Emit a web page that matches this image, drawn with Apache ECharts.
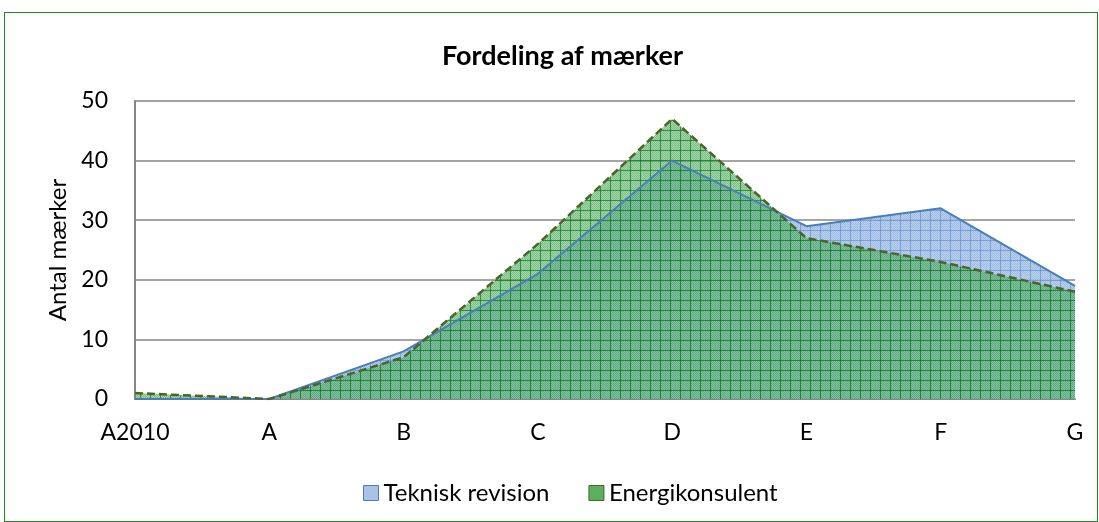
<!DOCTYPE html>
<html>
<head>
<meta charset="utf-8">
<script src="https://cdn.jsdelivr.net/npm/echarts@6/dist/echarts.min.js"></script>
<style>
  html, body { margin: 0; padding: 0; background: #fff; }
  #chart { width: 1099px; height: 522px; }
  #frame {
    position: absolute; left: 4px; top: 12px; width: 1092px; height: 508px;
    border: 1px solid #1b8a1b; pointer-events: none;
  }
</style>
</head>
<body>
<div id="chart"></div>
<div id="frame"></div>
<script>
// data
var categories = ["A2010", "A", "B", "C", "D", "E", "F", "G"];
var teknisk = [0, 0, 8, 21, 40, 29, 32, 19];
var energi = [1, 0, 7, 26, 47, 27, 23, 18];

// pattern fills, mimics the excel grid texture
function makePattern(bg, dot, line) {
  var c = document.createElement("canvas");
  c.width = 10;
  c.height = 10;
  var ctx = c.getContext("2d");
  ctx.fillStyle = bg;
  ctx.fillRect(0, 0, 10, 10);
  ctx.fillStyle = dot;
  for (var y = 0; y < 10; y++) {
    for (var x = (y % 2); x < 10; x += 2) {
      ctx.fillRect(x, y, 1, 1);
    }
  }
  ctx.fillStyle = line;
  ctx.fillRect(0, 0, 10, 1);
  ctx.fillRect(0, 0, 1, 10);
  return c;
}

var bluePat = makePattern("rgba(178,202,235,0.85)", "rgba(120,160,215,0.45)", "rgba(90,135,200,0.6)");
var greenPat = makePattern("rgba(85,180,95,0.52)", "rgba(40,140,60,0.35)", "rgba(20,120,40,0.75)");

var chart = echarts.init(document.getElementById("chart"));
chart.setOption({
  animation: false,
  textStyle: { fontFamily: "Lato" },
  title: {
    text: "Fordeling af mærker",
    left: 437,
    top: 38,
    textStyle: { fontSize: 27, fontWeight: "bold", color: "#000", fontFamily: "Lato" }
  },
  legend: {
    top: 476,
    left: 358,
    icon: "rect",
    itemWidth: 15,
    itemHeight: 15,
    itemGap: 39,
    textStyle: { fontSize: 24, color: "#000", fontFamily: "Lato" },
    data: [
      { name: "Teknisk revision", itemStyle: { color: "#a9c2e6", borderColor: "#4a7ebb", borderWidth: 1 } },
      { name: "Energikonsulent", itemStyle: { color: "#5bb060", borderColor: "#4f6228", borderWidth: 1 } }
    ]
  },
  grid: {
    left: 135,
    right: 24,
    top: 101,
    bottom: 123
  },
  xAxis: {
    type: "category",
    boundaryGap: false,
    data: categories,
    axisTick: { show: false },
    axisLine: { lineStyle: { color: "#868686", width: 2 } },
    axisLabel: { fontSize: 23, color: "#000", margin: 22 }
  },
  yAxis: {
    type: "value",
    min: 0,
    max: 50,
    interval: 10,
    name: "Antal mærker",
    nameLocation: "middle",
    nameGap: 61,
    nameTextStyle: { fontSize: 24, color: "#000" },
    axisLine: { show: true, lineStyle: { color: "#868686", width: 2 } },
    axisTick: { show: false },
    axisLabel: { fontSize: 23, color: "#000", margin: 27 },
    splitLine: { lineStyle: { color: "#868686", width: 1.5 } }
  },
  series: [
    {
      name: "Teknisk revision",
      type: "line",
      data: teknisk,
      symbol: "none",
      lineStyle: { color: "#4a7ebb", width: 2 },
      itemStyle: { color: "#4a7ebb" },
      areaStyle: { color: { image: bluePat, repeat: "repeat" }, opacity: 1 }
    },
    {
      name: "Energikonsulent",
      type: "line",
      data: energi,
      symbol: "none",
      lineStyle: { color: "#4f6228", width: 2.5, type: [8, 4] },
      itemStyle: { color: "#4f6228" },
      areaStyle: { color: { image: greenPat, repeat: "repeat" }, opacity: 1 }
    }
  ]
});
</script>
</body>
</html>
